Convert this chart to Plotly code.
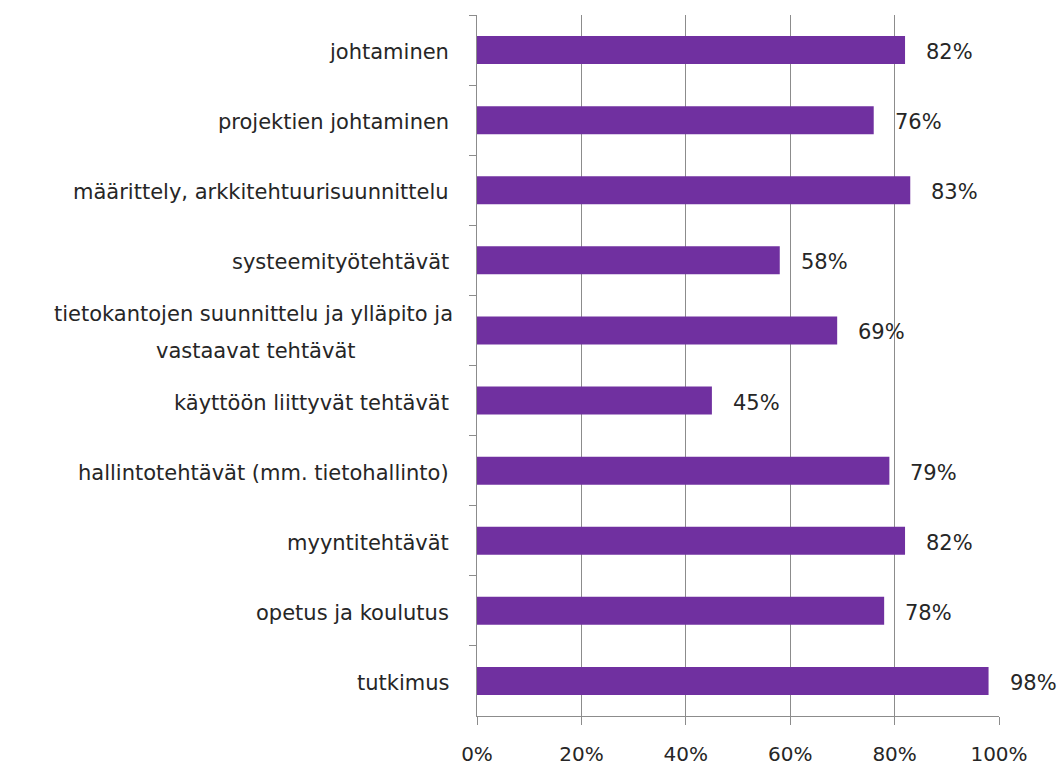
import plotly.graph_objects as go

# Task areas (top to bottom) and share of respondents
categories = [
    "johtaminen",
    "projektien johtaminen",
    "määrittely, arkkitehtuurisuunnittelu",
    "systeemityötehtävät",
    "tietokantojen suunnittelu ja ylläpito ja<br>vastaavat tehtävät",
    "käyttöön liittyvät tehtävät",
    "hallintotehtävät (mm. tietohallinto)",
    "myyntitehtävät",
    "opetus ja koulutus",
    "tutkimus",
]
values = [82, 76, 83, 58, 69, 45, 79, 82, 78, 98]
x_ticks = [0, 20, 40, 60, 80, 100]
x_tick_labels = ["0%", "20%", "40%", "60%", "80%", "100%"]

FONT = "DejaVu Sans"
TEXT = "#262626"
GRID = "#8c8c8c"
BAR = "#7030A0"
LABEL_SIZE = 21
LABEL_PAD = -26          # gap between category labels and the axis (px)
LINE_GAP = 37            # baseline distance for wrapped category labels (px)

fig = go.Figure(
    go.Bar(
        x=values,
        y=categories,
        orientation="h",
        width=0.4,
        marker=dict(color=BAR, line=dict(width=0)),
        hoverinfo="x+y",
    )
)

# Value labels just past each bar end
for c, v in zip(categories, values):
    fig.add_annotation(
        x=v, y=c, text=f"{v}%", showarrow=False,
        xanchor="left", xshift=19, yshift=-2,
        font=dict(family=FONT, size=LABEL_SIZE, color=TEXT),
    )

# Category labels: right-aligned to the axis; a wrapped label gets its
# second line centred beneath the first one with wider line spacing.
FIRST_LINE_WIDTH = 399   # rendered width of the first wrapped line at LABEL_SIZE
for c in categories:
    lines = c.split("<br>")
    if len(lines) == 1:
        fig.add_annotation(
            x=0, xref="paper", y=c, text=c, showarrow=False,
            xanchor="right", xshift=LABEL_PAD, yshift=-2,
            font=dict(family=FONT, size=LABEL_SIZE, color=TEXT),
        )
    else:
        fig.add_annotation(
            x=0, xref="paper", y=c, text=lines[0], showarrow=False,
            xanchor="right", xshift=LABEL_PAD + 4, yshift=LINE_GAP / 2 - 2,
            font=dict(family=FONT, size=LABEL_SIZE, color=TEXT),
        )
        fig.add_annotation(
            x=0, xref="paper", y=c, text=lines[1], showarrow=False,
            xanchor="center", xshift=LABEL_PAD + 4 - FIRST_LINE_WIDTH / 2,
            yshift=-LINE_GAP / 2 - 2,
            font=dict(family=FONT, size=LABEL_SIZE, color=TEXT),
        )

fig.update_layout(
    width=1061,
    height=765,
    margin=dict(l=477, r=62, t=15, b=49, autoexpand=False),
    paper_bgcolor="white",
    plot_bgcolor="white",
    showlegend=False,
    bargap=0.6,
)
fig.update_xaxes(
    range=[0, 100],
    tickvals=x_ticks,
    ticktext=x_tick_labels,
    showgrid=True,
    gridcolor=GRID,
    gridwidth=1,
    zeroline=False,
    showline=True,
    linecolor=GRID,
    linewidth=1,
    ticks="outside",
    ticklen=8,
    tickcolor=GRID,
    ticklabelstandoff=12,
    tickfont=dict(family=FONT, size=20, color=TEXT),
    automargin=False,
    fixedrange=True,
)
fig.update_yaxes(
    categoryorder="array",
    categoryarray=categories,
    autorange="reversed",
    showticklabels=False,
    showgrid=False,
    zeroline=False,
    showline=True,
    linecolor=GRID,
    linewidth=1,
    ticks="outside",
    tickson="boundaries",
    ticklen=7,
    tickcolor=GRID,
    automargin=False,
    fixedrange=True,
)

fig.write_html("out.html")
